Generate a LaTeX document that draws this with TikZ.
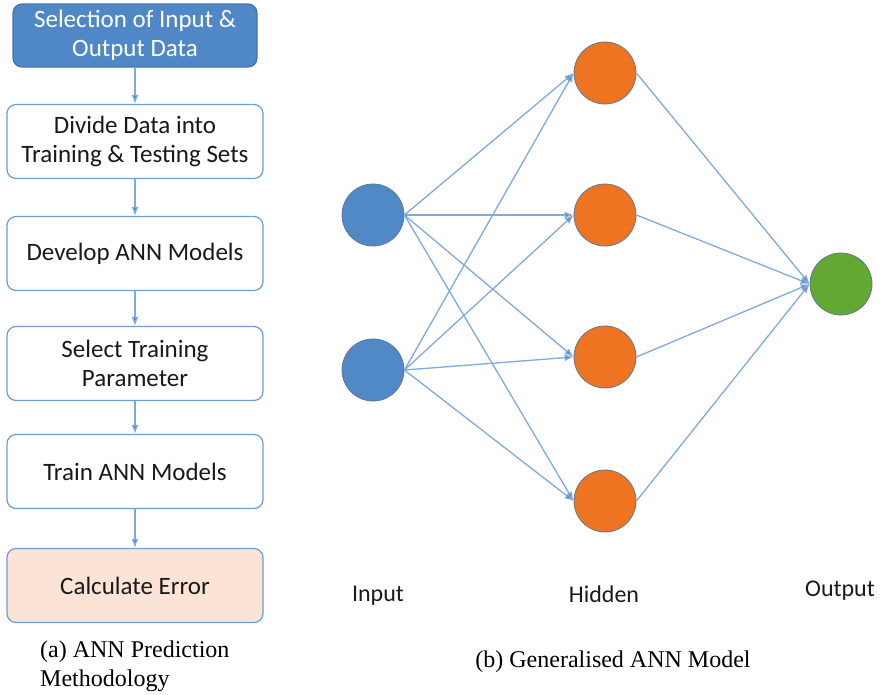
\documentclass[tikz,border=0pt]{standalone}
\usepackage{fontspec}
\setmainfont{Liberation Serif}
\newfontfamily\calibri{Carlito}
\usepackage{xcolor}
\usepackage{tikz}
\usetikzlibrary{positioning, arrows.meta}

\definecolor{boxblue}{HTML}{4F87C7}
\definecolor{rimblue}{HTML}{6C9DD4}
\definecolor{edgeblue}{HTML}{7FAADB}
\definecolor{tipblue}{HTML}{4F87C7}
\definecolor{nodeblue}{HTML}{5089C6}
\definecolor{nodeorange}{HTML}{EE7422}
\definecolor{nodegreen}{HTML}{62A832}
\definecolor{errfill}{HTML}{FBE4D5}
\definecolor{rimdark}{HTML}{5F7896}

\begin{document}
\begin{tikzpicture}[x=1pt, y=-1pt, on grid,
    stepbox/.style={draw=rimblue, line width=1.2pt, rounded corners=9pt, fill=white,
        minimum width=256pt, minimum height=74pt, align=center,
        font=\calibri\fontsize{25}{29}\selectfont, text=black!90},
    neuron/.style={circle, draw=rimdark, line width=0.8pt, minimum size=62pt, inner sep=0pt},
    link/.style={draw=edgeblue, line width=1.3pt, -{Latex[length=9pt,width=7pt,fill=tipblue]}},
    layer/.style={font=\calibri\fontsize{24}{28}\selectfont, text=black!90},
    caption/.style={font=\fontsize{24}{29}\selectfont, inner sep=0pt}]
        \useasboundingbox (0,0) rectangle (882,694);

        % (a) methodology
        \node[stepbox, fill=boxblue, draw=boxblue!85!black, text=white,
              minimum width=244pt, minimum height=63pt] (select) at (135,35.5) {Selection of Input \&\\Output Data};
        \node[stepbox] (divide)  [below=106pt of select] {Divide Data into\\Training \& Testing Sets};
        \node[stepbox] (develop) [below=112pt of divide]  {Develop ANN Models};
        \node[stepbox] (param)   [below=110pt of develop] {Select Training\\Parameter};
        \node[stepbox] (train)   [below=108pt of param]   {Train ANN Models};
        \node[stepbox, fill=errfill] (error) [below=114pt of train] {Calculate Error};

        \draw[link] (select) -- (divide);
        \draw[link] (divide) -- (develop);
        \draw[link] (develop) -- (param);
        \draw[link] (param) -- (train);
        \draw[link] (train) -- (error);

        \node[caption, anchor=north west, align=left] (capa) at (40,641) {(a) ANN Prediction\\Methodology};

        % (b) network
        \node[neuron, fill=nodeblue] (in1) at (373,215) {};
        \node[neuron, fill=nodeblue] (in2) [below=155pt of in1] {};
        \node[neuron, fill=nodeorange] (hid1) at (605,73) {};
        \node[neuron, fill=nodeorange] (hid2) [below=142pt of hid1] {};
        \node[neuron, fill=nodeorange] (hid3) [below=142pt of hid2] {};
        \node[neuron, fill=nodeorange] (hid4) [below=144pt of hid3] {};
        \node[neuron, fill=nodegreen] (out) at (841,284) {};

        \foreach \i in {1,2}
            \foreach \h in {1,...,4}
                \draw[link] (in\i.east) -- (hid\h.west);
        \foreach \h in {1,...,4}
            \draw[link] (hid\h.east) -- (out.west);

        \node[layer] (inlabel)  at (378,596) {Input};
        \node[layer] (hidlabel) at (604,594) {Hidden};
        \node[layer] (outlabel) at (840,591) {Output};

        \node[caption] (capb) at (613,662) {(b) Generalised ANN Model};
    \end{tikzpicture}
\end{document}
